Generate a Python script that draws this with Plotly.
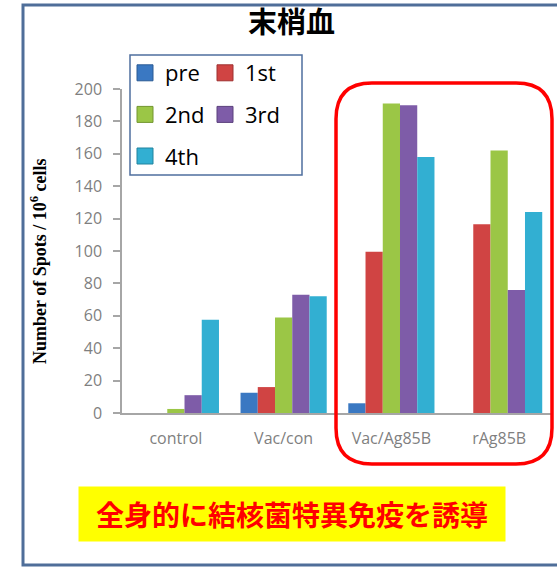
import plotly.graph_objects as go

categories = ["control", "Vac/con", "Vac/Ag85B", "rAg85B"]
series_names = ["pre", "1st", "2nd", "3rd", "4th"]
pre_vals = [0, 12.5, 6, 0]
first_vals = [0, 16, 99.5, 116.5]
second_vals = [2.5, 59, 191, 162]
third_vals = [11, 73, 190, 76]
fourth_vals = [57.5, 72, 158, 124]
colors = ["#3A78C2", "#D04443", "#9BC646", "#7E5CA8", "#32AFD2"]
line_colors = ["#2B5A94", "#9E3130", "#72952F", "#5B407C", "#21839E"]
y_ticks = [0, 20, 40, 60, 80, 100, 120, 140, 160, 180, 200]

title_text = "<b>末梢血</b>"
ytitle_text = "<b>Number of Spots / 10<sup>6</sup> cells</b>"
banner_text = "<b>全身的に結核菌特異免疫を誘導</b>"

W, H = 557, 567
L, R, T, B = 122, 4, 89, 154
PW, PH = W - L - R, H - T - B


def px(X):
    return (X - L) / PW


def py(Y):
    return (H - B - Y) / PH


all_vals = [pre_vals, first_vals, second_vals, third_vals, fourth_vals]
legend_ids = ["legend", "legend2", "legend", "legend2", "legend"]

fig = go.Figure()
for i, name in enumerate(series_names):
    fig.add_trace(go.Bar(
        x=categories, y=all_vals[i], name=name,
        marker=dict(color=colors[i], line=dict(color=line_colors[i], width=0)),
        showlegend=False, legendgroup=name,
    ))
# legend entries (bigger square swatches, like the reference)
for i, name in enumerate(series_names):
    fig.add_trace(go.Scatter(
        x=[None], y=[None], mode="markers", name=name,
        marker=dict(symbol="square", size=16, color=colors[i],
                    line=dict(color=line_colors[i], width=1)),
        legend=legend_ids[i], legendgroup=name, showlegend=True,
    ))

# rounded red rectangle path
x0, x1, y0, y1, r = 336, 552, 83, 464, 36
rx, ry = r / PW, r / PH
path = (f"M {px(x0)+rx},{py(y0)} L {px(x1)-rx},{py(y0)} "
        f"Q {px(x1)},{py(y0)} {px(x1)},{py(y0)-ry} "
        f"L {px(x1)},{py(y1)+ry} Q {px(x1)},{py(y1)} {px(x1)-rx},{py(y1)} "
        f"L {px(x0)+rx},{py(y1)} Q {px(x0)},{py(y1)} {px(x0)},{py(y1)+ry} "
        f"L {px(x0)},{py(y0)-ry} Q {px(x0)},{py(y0)} {px(x0)+rx},{py(y0)} Z")

shapes = [
    dict(type="rect", xref="paper", yref="paper",
         x0=px(23), x1=px(562), y0=py(565), y1=py(5),
         line=dict(color="#4F6E99", width=3), layer="below"),
    dict(type="path", xref="paper", yref="paper", path=path,
         line=dict(color="#FF0000", width=3.5), layer="above"),
    dict(type="rect", xref="paper", yref="paper",
         x0=px(130), x1=px(302), y0=py(175), y1=py(55),
         line=dict(color="#4F6F9F", width=1.5), fillcolor="white", layer="above"),
]

annotations = [
    dict(text=title_text, xref="paper", yref="paper", x=px(291), y=py(20),
         xanchor="center", yanchor="middle", showarrow=False,
         font=dict(family="Noto Sans CJK JP", size=29, color="black")),
    dict(text=ytitle_text, xref="paper", yref="paper", x=px(38), y=py(262),
         xanchor="center", yanchor="middle", showarrow=False, textangle=-90,
         font=dict(family="Liberation Serif", size=18, color="black")),
    dict(text=banner_text, xref="paper", yref="paper", x=px(292), y=py(514),
         xanchor="center", yanchor="middle", showarrow=False,
         width=426, height=54, bgcolor="#FFFF00", borderpad=0,
         font=dict(family="Noto Sans CJK JP", size=28, color="#FF0000")),
]

legend_common = dict(
    orientation="v", bgcolor="rgba(0,0,0,0)", borderwidth=0,
    font=dict(family="Open Sans", size=22, color="black"),
    traceorder="grouped", tracegroupgap=10,
    xanchor="left", yanchor="top", itemwidth=30, itemsizing="trace",
)

fig.update_layout(
    width=W, height=H,
    margin=dict(l=L, r=R, t=T, b=B, autoexpand=False),
    paper_bgcolor="white", plot_bgcolor="white",
    barmode="group", bargap=0.2, bargroupgap=0.0,
    showlegend=True,
    legend=dict(x=px(125), y=py(52), **legend_common),
    legend2=dict(x=px(205), y=py(52), **legend_common),
    shapes=shapes, annotations=annotations,
    xaxis=dict(
        showline=True, linecolor="#A6A6A6", linewidth=1.5,
        ticks="", showgrid=False, ticklabelstandoff=10,
        tickfont=dict(family="Open Sans", size=16, color="#7F7F7F"),
    ),
    yaxis=dict(
        range=[0, 200], tickvals=y_ticks, showgrid=False,
        showline=True, linecolor="#A6A6A6", linewidth=1.5,
        ticks="outside", ticklen=7, tickcolor="#A6A6A6", tickwidth=1.5,
        ticklabelstandoff=8, zeroline=False,
        tickfont=dict(family="Open Sans", size=16, color="#7F7F7F"),
    ),
)

fig.write_html("out.html")
